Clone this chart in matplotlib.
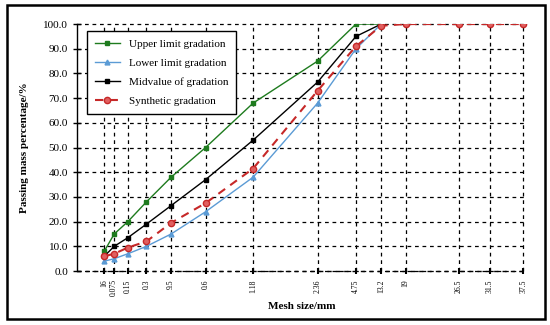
import matplotlib
matplotlib.use('Agg')
from matplotlib import pyplot as plt
from matplotlib.patches import Rectangle
import numpy as np

# sieve sizes (mm) and the labels as printed on the axis
sieve_sizes = [0.075, 0.15, 0.3, 0.6, 1.18, 2.36, 4.75, 9.5, 13.2, 16, 19, 26.5, 31.5, 37.5]
tick_labels = ['16', '0.075', '0.15', '0.3', '9.5', '0.6', '1.18', '2.36', '4.75', '13.2',
               '19', '26.5', '31.5', '37.5']

limit_sizes = [0.075, 0.15, 0.3, 0.6, 1.18, 2.36, 4.75, 9.5, 13.2, 16]
upper_limit = [8, 15, 20, 28, 38, 50, 68, 85, 100, 100]
lower_limit = [4, 5, 7, 10, 15, 24, 38, 68, 90, 100]
mid_value = [6, 10, 13.5, 19, 26.5, 37, 53, 76.5, 95, 100]
synthetic = [6, 7, 9.5, 12, 19.5, 27.5, 41.5, 73, 91, 99.3, 100, 100, 100, 100]


def power_pos(sizes):
    # 0.45 power gradation chart
    return np.power(np.asarray(sizes, dtype=float), 0.45)


plt.rcParams['font.family'] = ['Liberation Serif', 'DejaVu Serif']

fig = plt.figure(figsize=(5.5, 3.25), dpi=100)
ax = fig.add_axes([0.14, 0.166, 0.818, 0.76])

ax.plot(power_pos(limit_sizes), upper_limit, color='#1e7b1e', lw=1.0,
        marker='s', markersize=3.5, label='Upper limit gradation', zorder=4)
ax.plot(power_pos(limit_sizes), lower_limit, color='#5b9bd5', lw=1.0,
        marker='^', markersize=3.5, label='Lower limit gradation', zorder=4)
ax.plot(power_pos(limit_sizes), mid_value, color='black', lw=1.0,
        marker='s', markersize=3.5, label='Midvalue of gradation', zorder=4)
ax.plot(power_pos(sieve_sizes), synthetic, color='#c62828', lw=1.5, dashes=(4, 3),
        marker='o', markersize=4.5, markerfacecolor='#e06060', markeredgecolor='#c62828',
        label='Synthetic gradation', zorder=5)

ax.set_xlim(0, 5.15)
ax.set_ylim(0, 100)
ax.set_xticks(power_pos(sieve_sizes))
ax.set_xticklabels(tick_labels, rotation=90, fontsize=5.5)
ax.set_yticks(np.arange(0, 101, 10))
ax.set_yticklabels([f'{v:.1f}' for v in np.arange(0, 101, 10)], fontsize=8)

# dashed grid
ax.grid(True, color='black', linestyle=(0, (3, 3)), linewidth=0.9)
ax.set_axisbelow(True)
for line in ax.get_xgridlines() + ax.get_ygridlines():
    line.set_clip_on(False)
# dashed baseline instead of a solid bottom spine
ax.axhline(0, color='black', linestyle=(0, (3, 3)), linewidth=1.0, clip_on=False, zorder=2)

for spine_name in ('top', 'right', 'bottom'):
    ax.spines[spine_name].set_visible(False)
ax.spines['left'].set_linewidth(1.0)

ax.tick_params(axis='y', direction='inout', length=6, width=1)
ax.tick_params(axis='x', direction='inout', length=4, width=1.5, pad=4)

ax.set_xlabel('Mesh size/mm', fontsize=8, fontweight='bold', labelpad=4)
ax.set_ylabel('Passing mass percentage/%', fontsize=8, fontweight='bold', labelpad=10)

leg = ax.legend(loc='upper left', bbox_to_anchor=(0.022, 0.972), borderaxespad=0,
                fontsize=8, fancybox=False, framealpha=1, edgecolor='black',
                labelspacing=0.85, handlelength=2.3, borderpad=0.7)
leg.get_frame().set_linewidth(1.0)

# outer frame around the whole chart
fig.patches.append(Rectangle((0.012, 0.02), 0.978, 0.965, transform=fig.transFigure,
                             fill=False, edgecolor='black', linewidth=1.8))

plt.savefig('out.png', dpi=100)
